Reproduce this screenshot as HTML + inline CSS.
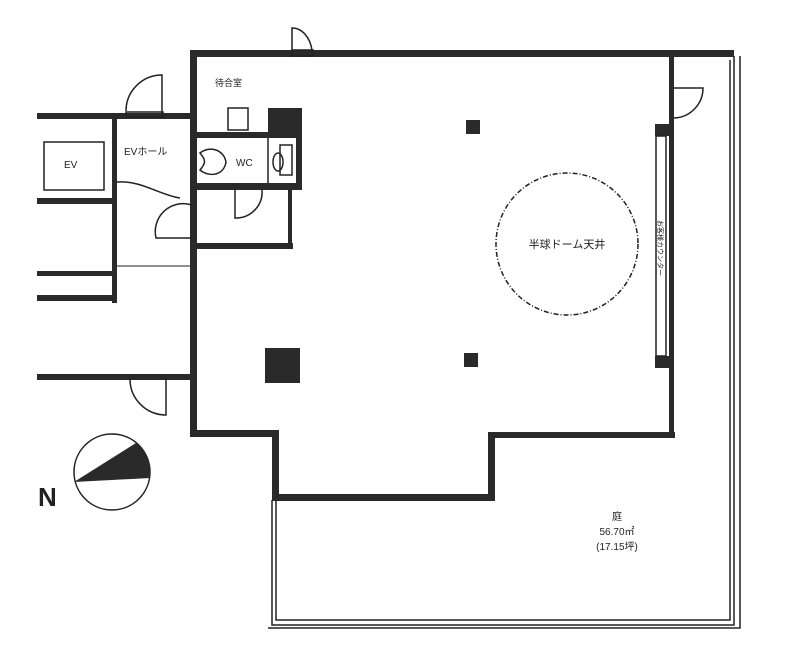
<!DOCTYPE html>
<html><head><meta charset="utf-8"><style>
html,body{margin:0;padding:0;background:#fff;}
svg{display:block;font-family:"Liberation Sans","Noto Sans CJK JP",sans-serif;}
</style></head><body>
<svg width="787" height="667" viewBox="0 0 787 667" xmlns="http://www.w3.org/2000/svg">
<rect width="787" height="667" fill="#fff"/>
<g fill="#2a2a2a">
<!-- main thick walls -->
<rect x="190" y="50" width="544" height="7"/>
<rect x="190" y="50" width="7" height="386"/>
<rect x="190" y="430" width="88" height="7"/>
<rect x="272" y="430" width="7" height="70"/>
<rect x="272" y="494" width="223" height="7"/>
<rect x="488" y="432" width="7" height="69"/>
<rect x="488" y="432" width="187" height="6"/>
<rect x="669" y="52" width="5" height="386"/>
<!-- left walls -->
<rect x="37" y="113" width="155" height="6"/>
<rect x="112" y="113" width="5" height="190"/>
<rect x="37" y="198" width="77" height="6"/>
<rect x="37" y="271" width="80" height="5"/>
<rect x="37" y="295" width="80" height="6"/>
<rect x="37" y="374" width="155" height="6"/>
<!-- WC block -->
<rect x="196" y="132" width="100" height="6"/>
<rect x="268" y="108" width="34" height="30"/>
<rect x="196" y="183" width="106" height="7"/>
<rect x="296" y="132" width="6" height="58"/>
<rect x="196" y="243" width="97" height="6"/>
<rect x="288" y="190" width="4" height="58"/>
<!-- columns -->
<rect x="466" y="120" width="14" height="14"/>
<rect x="464" y="353" width="14" height="14"/>
<rect x="265" y="348" width="35" height="35"/>
<rect x="655" y="124" width="14" height="12"/>
<rect x="655" y="356" width="14" height="12"/>
</g>
<g fill="none" stroke="#222" stroke-width="1.5">
<!-- garden outline -->
<path d="M734 56 V625 H272 V500"/>
<path d="M740 56 V628 H268"/>
<path d="M276 500 V620 H730 V60"/>
<!-- counter -->
<rect x="656" y="136" width="10" height="220"/>
<!-- EV -->
<rect x="44" y="142" width="60" height="48"/>
<!-- sink -->
<rect x="228" y="108" width="20" height="22"/>
<!-- doors -->
<path d="M292 57 V28 A20 28 0 0 1 312 50"/>
<rect x="292" y="50" width="21" height="6"/>
<path d="M162 113 V75 A36 36 0 0 0 126 111"/>
<rect x="126" y="112" width="37" height="5"/>
<path d="M674 88 H703 A30 30 0 0 1 674 118"/>
<path d="M192 205 A28 28 0 0 0 156 238 H192"/>
<path d="M235 190 V218 A26 26 0 0 0 262 190"/>
<path d="M130 379 A36 36 0 0 0 166 415 V379"/>
<path d="M117 182 C140 180 160 195 180 198"/>
<path d="M117 266 H190" stroke-width="1"/>
<!-- toilets -->
<path d="M200 153 C210 145 224 150 226 162 C224 175 210 178 200 170 C206 163 206 160 200 153Z"/>
<rect x="280" y="145" width="12" height="30"/>
<ellipse cx="278" cy="162" rx="5" ry="9"/>
<path d="M268 138 V183"/>
<!-- dome -->
<circle cx="567" cy="244" r="71" stroke-dasharray="5,2,1,2"/>
<!-- compass -->
<circle cx="112" cy="472" r="38"/>
</g>
<path d="M74 482 L136 443 A38 38 0 0 1 150 478 Z" fill="#2a2a2a"/>
<g fill="#222">
<text x="215" y="86" font-size="9">待合室</text>
<text x="124" y="155" font-size="10">EVホール</text>
<text x="64" y="168" font-size="10">EV</text>
<text x="236" y="166" font-size="10">WC</text>
<text x="567" y="248" font-size="11" text-anchor="middle">半球ドーム天井</text>
<text x="617" y="520" font-size="10" text-anchor="middle">庭</text>
<text x="617" y="535" font-size="10" text-anchor="middle">56.70㎡</text>
<text x="617" y="550" font-size="10" text-anchor="middle">(17.15坪)</text>
<text x="38" y="506" font-size="26" font-weight="bold">N</text>
<text font-size="7" transform="translate(658,220) rotate(90)">お客様カウンター</text>
</g>
</svg>
</body></html>
